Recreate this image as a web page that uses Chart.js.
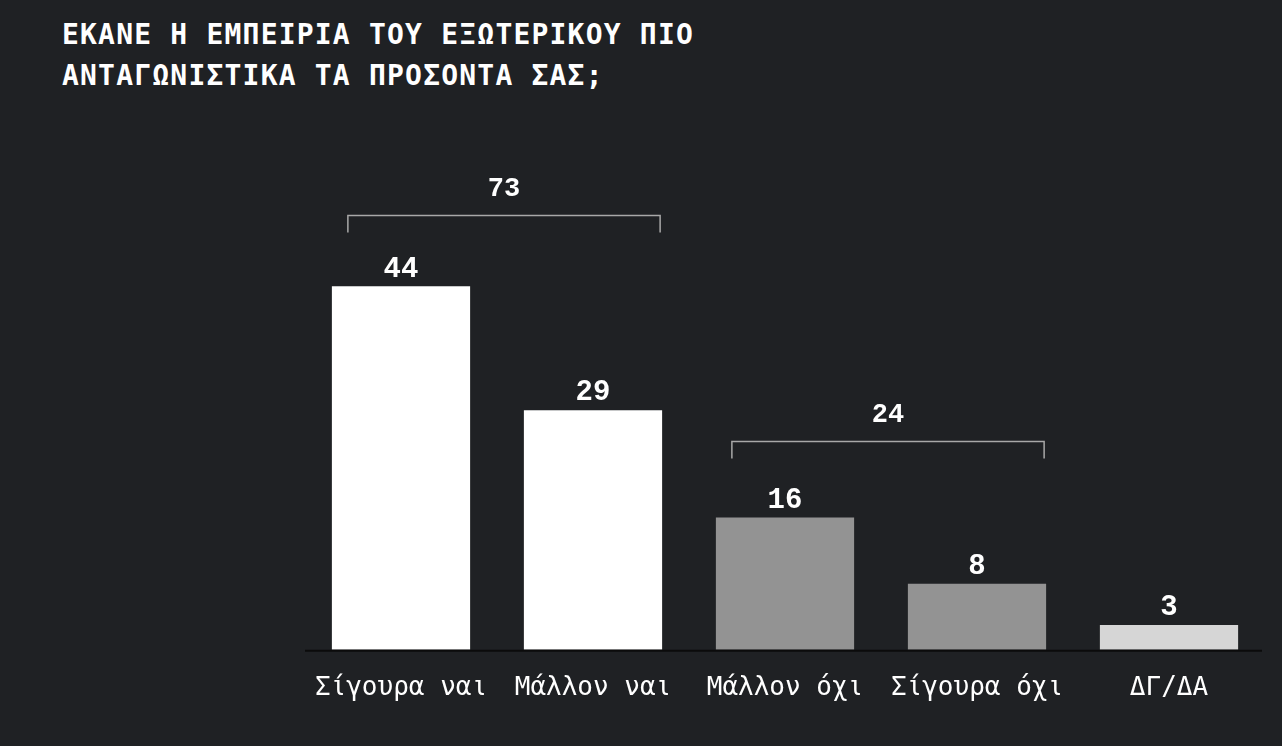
<!DOCTYPE html>
<html>
<head>
<meta charset="utf-8">
<script src="https://cdn.jsdelivr.net/npm/chart.js@4"></script>
<style>
  html, body { margin: 0; padding: 0; background: #1f2124; }
  #wrap { position: relative; width: 1282px; height: 746px; overflow: hidden; }
  #title {
    position: absolute; left: 62px; top: 14px;
    font-family: "DejaVu Sans Mono", monospace; font-weight: bold;
    font-size: 28px; line-height: 41px; color: #ffffff; letter-spacing: 1.2px;
  }
  canvas { position: absolute; left: 0; top: 0; }
</style>
</head>
<body>
<div id="wrap">
  <div id="title">ΕΚΑΝΕ Η ΕΜΠΕΙΡΙΑ ΤΟΥ ΕΞΩΤΕΡΙΚΟΥ ΠΙΟ<br>ΑΝΤΑΓΩΝΙΣΤΙΚΑ ΤΑ ΠΡΟΣΟΝΤΑ ΣΑΣ;</div>
  <canvas id="chart" width="1282" height="746"></canvas>
</div>
<script>
const CATEGORIES = ['Σίγουρα ναι', 'Μάλλον ναι', 'Μάλλον όχι', 'Σίγουρα όχι', 'ΔΓ/ΔΑ'];
const VALUES = [44, 29, 16, 8, 3];
const BAR_COLORS = ['#ffffff', '#ffffff', '#939393', '#939393', '#d6d6d6'];

// grouped totals drawn as brackets above the bars
const GROUP_FROM = [0, 2];
const GROUP_TO = [1, 3];
const GROUP_TOTALS = [73, 24];
const GROUP_LEVELS = [52.6, 25.3];

const bracketPlugin = {
  id: 'bracketPlugin',
  afterDatasetsDraw(chart) {
    const ctx = chart.ctx;
    const meta = chart.getDatasetMeta(0);
    const y = chart.scales.y;
    ctx.save();

    // value labels on top of bars
    ctx.fillStyle = '#ffffff';
    ctx.font = 'bold 29px "Liberation Mono", monospace';
    ctx.textAlign = 'center';
    ctx.textBaseline = 'middle';
    meta.data.forEach((bar, i) => {
      ctx.fillText(String(VALUES[i]), bar.x, bar.y - 17);
    });

    // brackets
    GROUP_FROM.forEach((from, g) => {
      const b1 = meta.data[from], b2 = meta.data[GROUP_TO[g]];
      const x1 = b1.x - b1.width / 2 + 16;
      const x2 = b2.x + b2.width / 2 - 2;
      const yy = Math.round(y.getPixelForValue(GROUP_LEVELS[g])) + 0.5;
      ctx.strokeStyle = '#a8a8a8';
      ctx.lineWidth = 1.5;
      ctx.beginPath();
      ctx.moveTo(x1, yy + 17);
      ctx.lineTo(x1, yy);
      ctx.lineTo(x2, yy);
      ctx.lineTo(x2, yy + 17);
      ctx.stroke();
      ctx.fillStyle = '#ffffff';
      ctx.font = 'bold 27px "Liberation Mono", monospace';
      ctx.fillText(String(GROUP_TOTALS[g]), (x1 + x2) / 2, yy - 26);
    });

    // baseline
    const area = chart.chartArea;
    ctx.strokeStyle = '#0b0b0b';
    ctx.lineWidth = 2;
    ctx.beginPath();
    ctx.moveTo(area.left, area.bottom + 1);
    ctx.lineTo(area.right - 3, area.bottom + 1);
    ctx.stroke();
    ctx.restore();
  }
};

new Chart(document.getElementById('chart'), {
  type: 'bar',
  data: {
    labels: CATEGORIES,
    datasets: [{
      data: VALUES,
      backgroundColor: BAR_COLORS,
      borderWidth: 0,
      barPercentage: 0.72,
      categoryPercentage: 1
    }]
  },
  options: {
    responsive: false,
    animation: false,
    layout: { padding: { left: 305, right: 17, top: 154, bottom: 27 } },
    plugins: { legend: { display: false }, tooltip: { enabled: false } },
    scales: {
      x: {
        grid: { display: false },
        border: { display: false },
        ticks: {
          color: '#ffffff',
          font: { family: '"DejaVu Sans Mono", monospace', size: 26 },
          padding: 15,
          maxRotation: 0,
          autoSkip: false
        }
      },
      y: { display: false, min: 0, max: 60 }
    }
  },
  plugins: [bracketPlugin]
});
</script>
</body>
</html>
